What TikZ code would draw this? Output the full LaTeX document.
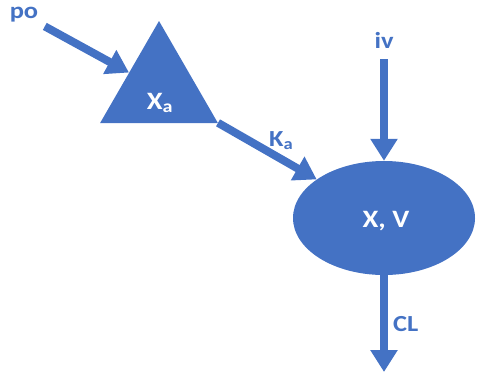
\documentclass[tikz,border=0pt]{standalone}
\usepackage{fontspec}
\setmainfont{Carlito}[FakeStretch=1.15]
\usepackage{tikz}
\usetikzlibrary{arrows.meta,shapes.geometric}
\definecolor{pkblue}{RGB}{68,114,196}

\begin{document}
\begin{tikzpicture}[
  x=1pt, y=-1pt,
  >={Triangle[width=26pt,length=22pt]},
  flow/.style={->, draw=pkblue, fill=pkblue, line width=8pt},
  lab/.style={text=pkblue, inner sep=2pt, font=\bfseries\fontsize{23}{26}\selectfont},
  inlab/.style={text=white, inner sep=0pt, font=\bfseries\fontsize{25}{28}\selectfont},
]
\useasboundingbox (0,0) rectangle (478,378);

%--- DEPOT (triangle) ---
\node[regular polygon, regular polygon sides=3, minimum size=136pt,
      inner sep=0pt, fill=pkblue] (tri) at (159,89) {};
\node[inlab] (xa) at (160,103) {X\textsubscript{a}};

%--- CENTRAL COMPARTMENT ---
\node[ellipse, minimum width=182pt, minimum height=114pt,
      inner sep=0pt, fill=pkblue] (ell) at (384,218) {};
\node[inlab] (xv) at (386,221) {X, V};

%--- DOSE LABELS ---
\node[lab] (po) at (24,15) {po};
\node[lab] (iv) at (384,40) {iv};
\coordinate (out) at (384,372);

%--- ARROWS ---
\draw[flow, shorten <=5pt] (po) -- (tri);
\draw[flow] (tri) -- node[lab, pos=0.64, above, yshift=3pt] (ka) {K\textsubscript{a}} (ell);
\draw[flow, shorten <=9pt] (iv) -- (ell.north);
\draw[flow] (ell.south) -- node[lab, right, xshift=3pt] (cl) {CL} (out);
\end{tikzpicture}
\end{document}
